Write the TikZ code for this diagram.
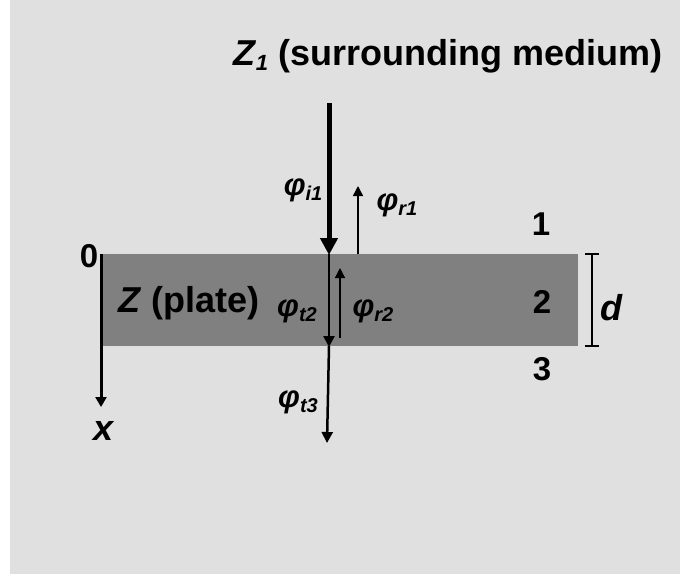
\documentclass[tikz,border=0pt]{standalone}
\usepackage{fontspec}
\setmainfont{Liberation Sans}
\usetikzlibrary{arrows.meta}
\tikzset{
  lbl/.style={inner sep=0pt, font=\fontsize{36}{40}\selectfont\bfseries},
  num/.style={inner sep=0pt, font=\fontsize{33}{38}\selectfont\bfseries},
  phil/.style={inner sep=0pt, font=\fontsize{31}{34}\selectfont\bfseries\itshape},
  thinarr/.style={line width=1.5pt, -{Triangle[length=10pt,width=10pt]}},
  midarr/.style={line width=2.5pt, -{Triangle[length=11pt,width=11pt]}},
}
\newcommand{\phisub}[1]{φ\raisebox{-0.35ex}{\fontsize{20}{22}\selectfont #1}}
\begin{document}
\begin{tikzpicture}[x=1pt,y=-1pt]
\useasboundingbox (0,0) rectangle (680,574);
\fill[white] (0,0) rectangle (680,574);
\fill[fill={rgb,255:red,224;green,224;blue,224}] (10,0) rectangle (680,574);
% plate
\fill[fill={rgb,255:red,128;green,128;blue,128}] (103,254) rectangle (578,346);
% coordinates
\coordinate (ax0) at (101,254);
\coordinate (ax1) at (101,407);
\coordinate (inTop) at (329,103);
\coordinate (inBot) at (329,254);
\coordinate (t2Bot) at (329,346);
\coordinate (t3Bot) at (327,443);
\coordinate (r1Bot) at (358,254);
\coordinate (r1Top) at (358,186);
\coordinate (r2Bot) at (340,338);
\coordinate (r2Top) at (340,268);
\coordinate (dTop) at (592,254);
\coordinate (dBot) at (592,346);
% axis
\draw[line width=3pt, -{Triangle[length=10pt,width=11pt]}] (ax0) -- (ax1);
% incident
\draw[line width=5pt, -{Triangle[length=17pt,width=17pt]}, shorten >=-1pt] (inTop) -- (inBot);
\draw[midarr, shorten >=-1pt] (inBot) -- (t2Bot);
\draw[midarr] (t2Bot) -- (t3Bot);
\draw[thinarr] (r1Bot) -- (r1Top);
\draw[thinarr] (r2Bot) -- (r2Top);
% thickness bracket
\draw[line width=2pt] (dTop) -- (dBot);
\draw[line width=2pt] ([xshift=-7pt]dTop) -- ([xshift=7pt]dTop);
\draw[line width=2pt] ([xshift=-7pt]dBot) -- ([xshift=7pt]dBot);
% labels
\node[lbl, anchor=base] (title) at (448,65) {\textit{Z\raisebox{-0.3ex}{\fontsize{22}{24}\selectfont 1}} (surrounding medium)};
\node[lbl, anchor=base] (plate) at (189,312) {\textit{Z} (plate)};
\node[num, anchor=base] (zero) at (89,267) {0};
\node[lbl, anchor=base] (xl) at (104,440) {\textit{x}};
\node[lbl, anchor=base] (dl) at (612,320) {\textit{d}};
\node[num, anchor=base] (n1) at (541,235) {1};
\node[num, anchor=base] (n2) at (542,313) {2};
\node[num, anchor=base] (n3) at (542,380) {3};
\node[phil] (pi1) at (303,190) {\phisub{i1}};
\node[phil] (pr1) at (397,205) {\phisub{r1}};
\node[phil] (pt2) at (297,311) {\phisub{t2}};
\node[phil] (pr2) at (373,311) {\phisub{r2}};
\node[phil] (pt3) at (298,402) {\phisub{t3}};
\end{tikzpicture}
\end{document}
